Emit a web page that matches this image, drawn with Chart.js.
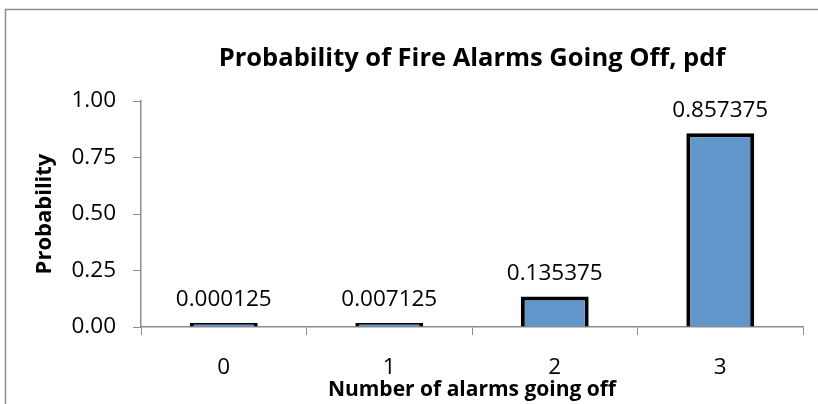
<!DOCTYPE html>
<html>
<head>
<meta charset="utf-8">
<script src="https://cdn.jsdelivr.net/npm/chart.js@4/dist/chart.umd.min.js"></script>
<style>
  html, body { margin: 0; padding: 0; background: #fff; }
  #chart { display: block; }
</style>
</head>
<body>
<canvas id="chart" width="818" height="404"></canvas>
<script>
const categories = ["0", "1", "2", "3"];
const probabilities = [0.000125, 0.007125, 0.135375, 0.857375];
const yTicks = [0, 0.25, 0.5, 0.75, 1];

const FONT = "'Open Sans', Lato, sans-serif";

// outer chart frame, chart title and value labels
const frameAndLabels = {
    id: 'frameAndLabels',
    beforeDraw(chart) {
        const ctx = chart.ctx;
        ctx.save();
        ctx.strokeStyle = '#8c8c8c';
        ctx.lineWidth = 1.5;
        ctx.strokeRect(5.5, 9.5, 900, 500);
        ctx.restore();
    },
    afterDatasetsDraw(chart) {
        const ctx = chart.ctx;
        const area = chart.chartArea;
        ctx.save();
        ctx.fillStyle = '#000';
        ctx.textAlign = 'center';
        ctx.textBaseline = 'middle';
        ctx.font = "bold 25.5px " + FONT;
        ctx.fillText('Probability of Fire Alarms Going Off, pdf', (area.left + area.right) / 2, 59);
        ctx.font = "22.5px " + FONT;
        chart.getDatasetMeta(0).data.forEach(function (bar, i) {
            ctx.fillText(String(probabilities[i]), bar.x, bar.y - 23);
        });
        ctx.restore();
    }
};

const config = {
    type: 'bar',
    data: {
        labels: categories,
        datasets: [{
            label: 'Probability',
            data: probabilities,
            backgroundColor: '#6096ca',
            borderColor: '#000',
            borderWidth: 4,
            borderSkipped: 'start',
            minBarLength: 4,
            categoryPercentage: 1,
            barPercentage: 0.41
        }]
    },
    plugins: [frameAndLabels],
    options: {
        responsive: false,
        animation: false,
        layout: { padding: { left: 0, right: 15, top: 101, bottom: 0 } },
        plugins: {
            legend: { display: false },
            tooltip: { enabled: false },
            title: { display: false }
        },
        scales: {
            x: {
                grid: {
                    display: true,
                    offset: true,
                    drawOnChartArea: false,
                    tickLength: 8,
                    color: '#8c8c8c'
                },
                border: { color: '#8c8c8c', width: 1.5 },
                ticks: {
                    color: '#000',
                    font: { family: FONT, size: 22.5 },
                    padding: 19
                },
                title: {
                    display: true,
                    text: 'Number of alarms going off',
                    color: '#000',
                    font: { family: FONT, size: 21, weight: 'bold' },
                    padding: { top: 0, bottom: 1 }
                },
                afterFit(scale) { scale.height = 77; }
            },
            y: {
                min: 0,
                max: 1,
                grid: {
                    drawOnChartArea: false,
                    tickLength: 8,
                    color: '#8c8c8c'
                },
                border: { color: '#8c8c8c', width: 1.5 },
                afterBuildTicks(scale) {
                    scale.ticks = yTicks.map(function (v) { return { value: v }; });
                },
                ticks: {
                    color: '#000',
                    font: { family: FONT, size: 22.5 },
                    padding: 17,
                    callback: function (v) { return Number(v).toFixed(2); }
                },
                title: {
                    display: true,
                    text: 'Probability',
                    color: '#000',
                    font: { family: FONT, size: 22, weight: 'bold' },
                    padding: { top: 32, bottom: 0 }
                },
                afterFit(scale) { scale.width = 141; }
            }
        }
    }
};

var chart = new Chart(document.getElementById('chart'), config);
</script>
</body>
</html>
